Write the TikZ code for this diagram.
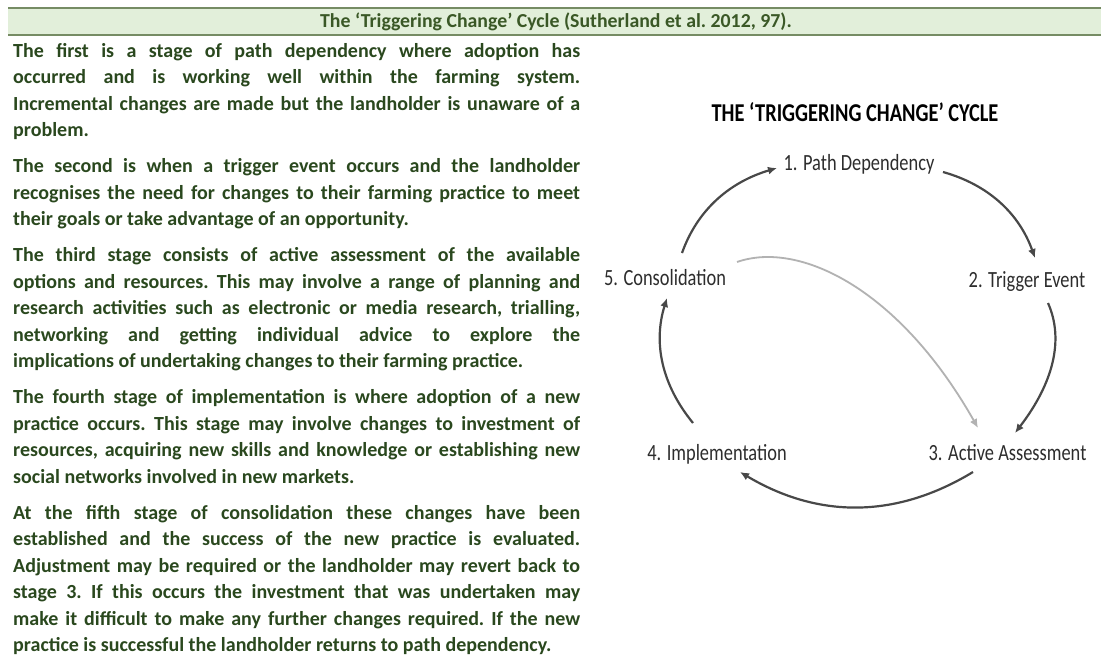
\documentclass[tikz,border=0pt]{standalone}
\usepackage{fontspec}
\setmainfont{Carlito}
\usepackage{graphicx}
\usetikzlibrary{arrows.meta,calc}
\definecolor{bodygreen}{RGB}{42,72,30}
\definecolor{headgreen}{RGB}{58,88,38}
\definecolor{headfill}{RGB}{226,239,218}
\definecolor{headline}{RGB}{118,140,100}
\definecolor{labelgray}{RGB}{45,45,45}
\definecolor{arrowgray}{RGB}{72,72,72}
\definecolor{lightarrow}{RGB}{178,178,178}
\newcommand{\vstretch}[1]{\scalebox{1}[1.26]{#1}}
\tikzset{
  bodytext/.style={anchor=base west, text width=567pt, inner sep=0pt, align=justify,
    font=\fontsize{20}{26.5}\selectfont\bfseries, text=bodygreen},
  stagelabel/.style={anchor=base, inner sep=0pt, text=labelgray,
    font=\fontsize{18.4}{22}\selectfont},
  cyclearrow/.style={draw=arrowgray, line width=2.2pt, -{Latex[length=9pt,width=8pt]}},
  backarrow/.style={draw=lightarrow, line width=1.8pt, -{Latex[length=9pt,width=8pt]}}
}
\begin{document}
\begin{tikzpicture}[x=1pt,y=-1pt]
\useasboundingbox (0,0) rectangle (1101,657);
\fill[white] (0,0) rectangle (1101,657);
% header band
\fill[headfill] (8,8) rectangle (1101,35);
\draw[headline, line width=2pt] (8,8) -- (1101,8);
\draw[headline, line width=2pt] (8,35) -- (1101,35);
\node[anchor=base, inner sep=0pt, text=headgreen, font=\fontsize{19.8}{22}\selectfont\bfseries] (hdr) at (556,27.5)
  {\frenchspacing The ‘Triggering Change’ Cycle (Sutherland et al. 2012, 97).};
% body text
\node[bodytext] (body) at (13,57) {%
\frenchspacing\hyphenpenalty=10000\exhyphenpenalty=10000\tolerance=10000\emergencystretch=20pt\parskip=9.5pt\relax
The first is a stage of path dependency where adoption has\linebreak occurred and is working well within the farming system.\linebreak Incremental changes are made but the landholder is unaware of a\linebreak problem.\par
The second is when a trigger event occurs and the landholder\linebreak recognises the need for changes to their farming practice to meet\linebreak their goals or take advantage of an opportunity.\par
The third stage consists of active assessment of the available\linebreak options and resources. This may involve a range of planning and\linebreak research activities such as electronic or media research, trialling,\linebreak networking and getting individual advice to explore the\linebreak implications of undertaking changes to their farming practice.\par
The fourth stage of implementation is where adoption of a new\linebreak practice occurs. This stage may involve changes to investment of\linebreak resources, acquiring new skills and knowledge or establishing new\linebreak social networks involved in new markets.\par
At the fifth stage of consolidation these changes have been\linebreak established and the success of the new practice is evaluated.\linebreak Adjustment may be required or the landholder may revert back to\linebreak stage 3. If this occurs the investment that was undertaken may\linebreak make it difficult to make any further changes required. If the new\linebreak practice is successful the landholder returns to path dependency.};
% diagram
\node[anchor=base, inner sep=0pt, text=black, font=\fontsize{20.4}{24}\selectfont\bfseries] (title) at (855,121.5)
  {\vstretch{THE ‘TRIGGERING CHANGE’ CYCLE}};
\node[stagelabel] (n1) at (859,170) {\vstretch{1. Path Dependency}};
\node[stagelabel] (n2) at (1027,287) {\vstretch{2. Trigger Event}};
\node[stagelabel] (n3) at (1007.5,460) {\vstretch{3. Active Assessment}};
\node[stagelabel] (n4) at (717,460) {\vstretch{4. Implementation}};
\node[stagelabel] (n5) at (665,285) {\vstretch{5. Consolidation}};
\draw[cyclearrow] ($(n5.base)+(17,-32)$) .. controls (697,210.7) and (728.7,182.3) .. ($(n1.base)+(-82,-2)$);
\draw[cyclearrow] ($(n1.base)+(84,2)$) .. controls (988.3,184.7) and (1019,213.3) .. ($(n2.base)+(8,-29)$);
\draw[cyclearrow] ($(n2.base)+(21,16)$) .. controls (1064.3,339.7) and (1053.3,383) .. ($(n3.base)+(7.5,-27)$);
\draw[cyclearrow] ($(n3.base)+(-34.5,12)$) .. controls (896,518.7) and (818.3,518.7) .. ($(n4.base)+(23,12)$);
\draw[cyclearrow] ($(n4.base)+(-24,-37)$) .. controls (661.7,384.7) and (653,343) .. ($(n5.base)+(2,13)$);
\draw[backarrow] ($(n5.base)+(72,-23)$) .. controls (800,240) and (900,290) .. ($(n3.base)+(-29.5,-32)$);
\end{tikzpicture}
\end{document}
